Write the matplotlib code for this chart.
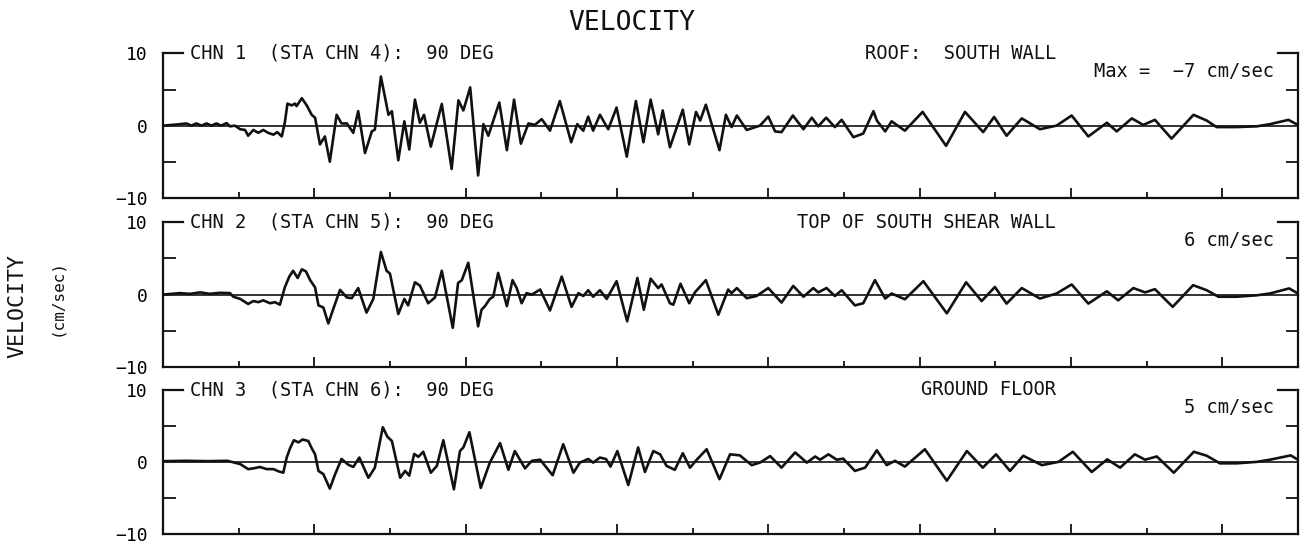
import matplotlib as mpl
import matplotlib.pyplot as plt

mpl.rcParams["font.family"] = ["DejaVu Sans Mono", "DejaVu Sans"]

# ----------------------------------------------
# Digitised velocity traces (time in s, velocity in cm/sec)
# ----------------------------------------------
t1 = [0.00, 0.36, 0.62, 0.75, 0.88, 1.02, 1.15, 1.28, 1.41, 1.54, 1.68, 1.77, 1.90,
      2.04, 2.17, 2.25, 2.39, 2.52, 2.65, 2.78, 2.92, 3.02, 3.14, 3.22, 3.29, 3.40,
      3.49, 3.53, 3.67, 3.80, 3.93, 4.02, 4.15, 4.28, 4.41, 4.59, 4.72, 4.86, 5.03,
      5.16, 5.34, 5.52, 5.60, 5.76, 5.96, 6.05, 6.22, 6.38, 6.51, 6.66, 6.79, 6.90,
      7.08, 7.37, 7.63, 7.81, 7.94, 8.12, 8.33, 8.47, 8.60, 8.89, 9.09, 9.28, 9.46,
      9.66, 9.83, 10.01, 10.23, 10.49, 10.79, 10.95, 11.11, 11.24, 11.37, 11.55,
      11.77, 11.99, 12.26, 12.50, 12.70, 12.89, 13.09, 13.21, 13.40, 13.74, 13.91,
      14.09, 14.20, 14.35, 14.71, 14.88, 15.03, 15.17, 15.43, 15.78, 16.00, 16.18,
      16.35, 16.65, 16.93, 17.15, 17.32, 17.53, 17.76, 17.94, 18.25, 18.51, 18.78,
      18.87, 19.09, 19.26, 19.61, 20.08, 20.70, 21.20, 21.68, 21.97, 22.30, 22.70,
      23.18, 23.62, 24.02, 24.46, 24.95, 25.21, 25.61, 25.91, 26.22, 26.66, 27.24,
      27.59, 27.85, 28.38, 28.91, 29.26, 29.75, 30.00]
v1 = [0.0, 0.15, 0.3, 0.0, 0.3, 0.0, 0.3, 0.0, 0.3, 0.0, 0.35, -0.1, 0.0,
      -0.5, -0.6, -1.4, -0.6, -1.0, -0.6, -1.0, -1.25, -0.9, -1.5, 0.4, 3.05, 2.8,
      3.05, 2.7, 3.8, 2.8, 1.5, 1.1, -2.6, -1.5, -5.0, 1.5, 0.3, 0.3, -1.0,
      2.0, -3.8, -0.8, -0.55, 6.8, 1.5, 2.0, -4.8, 0.6, -3.3, 3.6, 0.4, 1.5,
      -2.9, 3.0, -6.0, 3.5, 2.1, 5.3, -6.9, 0.2, -1.4, 3.2, -3.4, 3.6, -2.5,
      0.3, 0.1, 0.9, -0.7, 3.4, -2.3, 0.2, -0.7, 1.25, -0.7, 1.5,
      -0.5, 2.5, -4.3, 3.4, -2.3, 3.6, -1.2, 2.1, -3.0, 2.2, -2.6,
      1.9, 0.7, 2.9, -3.4, 1.5, -0.2, 1.4, -0.6, 0.0, 1.25, -0.8,
      -0.9, 1.4, -0.5, 1.1, -0.1, 1.1, -0.2, 0.8, -1.6, -1.1, 2.0,
      0.7, -0.8, 0.6, -0.7, 1.9, -2.8, 1.9, -0.9, 1.2, -1.4, 1.0,
      -0.5, 0.0, 1.4, -1.5, 0.4, -0.8, 1.0, 0.1, 0.8, -1.8, 1.5,
      0.7, -0.2, -0.2, -0.1, 0.2, 0.8, 0.1]

t2 = [0.00, 0.45, 0.71, 0.98, 1.24, 1.51, 1.77, 1.86, 2.04, 2.25, 2.39, 2.52, 2.65,
      2.83, 2.96, 3.09, 3.22, 3.34, 3.44, 3.56, 3.67, 3.78, 3.89, 4.02, 4.11, 4.24,
      4.37, 4.50, 4.68, 4.86, 4.99, 5.16, 5.38, 5.56, 5.76, 5.91, 6.00, 6.22, 6.38,
      6.48, 6.66, 6.79, 7.01, 7.19, 7.37, 7.66, 7.80, 7.90, 8.07, 8.33, 8.42, 8.51,
      8.64, 8.73, 8.86, 9.09, 9.24, 9.35, 9.48, 9.61, 9.75, 9.97, 10.23, 10.54,
      10.80, 10.98, 11.11, 11.24, 11.37, 11.55, 11.73, 11.99, 12.27, 12.54, 12.71,
      12.89, 13.09, 13.18, 13.40, 13.49, 13.68, 13.91, 14.06, 14.35, 14.68, 14.94,
      15.03, 15.17, 15.43, 15.69, 16.00, 16.35, 16.66, 16.93, 17.19, 17.32, 17.54,
      17.76, 17.94, 18.29, 18.51, 18.82, 19.09, 19.26, 19.61, 20.10, 20.72, 21.23,
      21.64, 21.99, 22.30, 22.70, 23.18, 23.62, 24.02, 24.46, 24.95, 25.25, 25.65,
      25.96, 26.22, 26.69, 27.23, 27.59, 27.90, 28.38, 28.91, 29.26, 29.77, 30.00]
v2 = [0.0, 0.2, 0.1, 0.3, 0.1, 0.25, 0.2, -0.3, -0.6, -1.3, -0.9, -1.05, -0.8,
      -1.2, -1.05, -1.4, 1.0, 2.5, 3.3, 2.3, 3.5, 3.2, 2.0, 1.0, -1.5, -1.8,
      -4.0, -2.0, 0.65, -0.4, -0.5, 0.9, -2.5, -0.6, 5.9, 3.3, 2.9, -2.7, -0.6,
      -1.5, 1.7, 1.25, -1.2, -0.4, 3.3, -4.6, 1.6, 2.0, 4.4, -4.4, -2.1, -1.6,
      -0.6, -0.3, 3.0, -1.6, 2.0, 0.9, -1.2, 0.2, 0.0, 0.7, -2.2, 2.5,
      -1.7, 0.2, -0.2, 0.6, -0.3, 0.6, -0.6, 1.85, -3.7, 2.3, -2.1,
      2.2, 0.9, 1.4, -1.2, -1.4, 1.5, -1.2, 0.3, 2.0, -2.8, 0.7,
      0.2, 0.9, -0.5, -0.2, 0.9, -1.1, 1.2, -0.3, 0.9, 0.3, 0.9,
      -0.2, 0.6, -1.5, -1.2, 2.0, -0.55, 0.15, -0.65, 1.85, -2.6, 1.7,
      -0.9, 1.05, -1.25, 0.9, -0.55, 0.15, 1.4, -1.25, 0.45, -0.8, 0.9,
      0.3, 0.75, -1.7, 1.3, 0.6, -0.3, -0.3, -0.1, 0.15, 0.85, 0.15]

t3 = [0.00, 0.60, 1.20, 1.70, 2.04, 2.25, 2.39, 2.56, 2.74, 2.92, 3.05, 3.18, 3.27,
      3.36, 3.46, 3.58, 3.69, 3.84, 3.93, 4.02, 4.11, 4.24, 4.41, 4.55, 4.72, 4.90,
      5.03, 5.19, 5.43, 5.60, 5.81, 5.93, 6.05, 6.27, 6.40, 6.51, 6.64, 6.75, 6.88,
      7.08, 7.24, 7.41, 7.69, 7.85, 7.94, 8.10, 8.40, 8.64, 8.91, 9.13, 9.30, 9.57,
      9.75, 9.97, 10.30, 10.58, 10.85, 11.02, 11.24, 11.37, 11.55, 11.71, 11.83,
      12.01, 12.30, 12.56, 12.74, 12.96, 13.14, 13.31, 13.53, 13.74, 13.93, 14.11,
      14.37, 14.71, 14.99, 15.25, 15.56, 15.78, 16.05, 16.35, 16.71, 17.02, 17.24,
      17.37, 17.59, 17.81, 17.98, 18.29, 18.56, 18.87, 19.13, 19.35, 19.61, 20.14,
      20.72, 21.25, 21.67, 22.02, 22.39, 22.74, 23.23, 23.67, 24.05, 24.55, 24.96,
      25.30, 25.69, 25.96, 26.27, 26.72, 27.25, 27.59, 27.94, 28.38, 28.91, 29.26,
      29.81, 30.00]
v3 = [0.1, 0.15, 0.1, 0.15, -0.3, -1.0, -0.9, -0.7, -1.0, -1.0, -1.3, -1.5, 0.6,
      1.9, 3.0, 2.7, 3.1, 2.9, 1.9, 1.05, -1.25, -1.7, -3.7, -1.7, 0.4, -0.4,
      -0.7, 0.6, -2.2, -0.8, 4.8, 3.5, 2.9, -2.2, -1.25, -1.9, 1.1, 0.7, 1.4,
      -1.5, -0.55, 3.0, -3.8, 1.5, 2.0, 4.1, -3.6, -0.1, 2.6, -1.1, 1.5, -0.9,
      0.15, 0.3, -1.85, 2.45, -1.5, -0.1, 0.4, -0.1, 0.6, 0.4, -0.65,
      1.5, -3.2, 2.0, -1.4, 1.5, 1.05, -0.55, -1.1, 1.2, -0.8, 0.3,
      1.75, -2.4, 1.05, 0.9, -0.45, -0.1, 0.8, -0.8, 1.3, -0.1, 0.75,
      0.3, 1.05, 0.3, 0.45, -1.25, -0.8, 1.6, -0.45, 0.15, -0.65, 1.75,
      -2.6, 1.5, -0.8, 1.05, -1.25, 0.85, -0.45, 0.0, 1.4, -1.4, 0.35,
      -0.8, 1.05, 0.3, 0.75, -1.5, 1.4, 0.85, -0.2, -0.2, 0.0, 0.3,
      0.9, 0.3]

times = [t1, t2, t3]
velocities = [v1, v2, v3]

chan_labels = ["CHN 1  (STA CHN 4):  90 DEG",
               "CHN 2  (STA CHN 5):  90 DEG",
               "CHN 3  (STA CHN 6):  90 DEG"]
loc_labels = ["ROOF:  SOUTH WALL", "TOP OF SOUTH SHEAR WALL", "GROUND FLOOR"]
max_labels = ["Max =  \u22127 cm/sec", "6 cm/sec", "5 cm/sec"]

ytick_vals = [-10, 0, 10]
ytick_text = ["\u221210", "0", "10"]

INK = "#111111"

fig = plt.figure(figsize=(13.06, 5.45), dpi=100)
bottoms = [0.637, 0.327, 0.020]

for i in range(3):
    ax = fig.add_axes([0.1248, bottoms[i], 0.869, 0.265])
    ax.plot(times[i], velocities[i], color=INK, lw=1.9, solid_joinstyle="round")
    ax.axhline(0, color=INK, lw=1.2)
    ax.set_xlim(0, 30)
    ax.set_ylim(-10, 10)

    # frame: no top spine, only short corner stubs
    ax.spines["top"].set_visible(False)
    for s in ["left", "right", "bottom"]:
        ax.spines[s].set_linewidth(1.6)
        ax.spines[s].set_color(INK)
    ax.plot([0, 0.0176], [1, 1], transform=ax.transAxes, color=INK, lw=1.6,
            clip_on=False)
    ax.plot([0.9824, 1], [1, 1], transform=ax.transAxes, color=INK, lw=1.6,
            clip_on=False)

    ax.set_yticks(ytick_vals)
    ax.set_yticklabels(ytick_text, fontsize=13)
    ax.set_yticks([-5, 5], minor=True)
    ax.tick_params(axis="y", which="major", length=0, pad=11)
    ax.tick_params(axis="y", which="minor", direction="in", length=9,
                   width=1.3, left=True, right=True, color=INK)

    ax.set_xticks(range(4, 30, 4))
    ax.set_xticklabels([])
    ax.set_xticks(range(2, 30, 4), minor=True)
    ax.tick_params(axis="x", which="major", direction="in", length=7.5,
                   width=1.3, color=INK)
    ax.tick_params(axis="x", which="minor", direction="in", length=4,
                   width=1.3, color=INK)

    ax.text(0.0238, 1.0, chan_labels[i], transform=ax.transAxes, ha="left",
            va="center", fontsize=13.5, color=INK)
    ax.text(0.787, 1.0, loc_labels[i], transform=ax.transAxes, ha="right",
            va="center", fontsize=13.5, color=INK)
    ax.text(0.979, 0.875, max_labels[i], transform=ax.transAxes, ha="right",
            va="center", fontsize=13.5, color=INK)

fig.text(0.484, 0.958, "VELOCITY", ha="center", va="center", fontsize=19,
         color=INK)
fig.text(0.013, 0.439, "VELOCITY", rotation=90, ha="center", va="center",
         fontsize=15.5, color=INK)
fig.text(0.0436, 0.455, "(cm/sec)", rotation=90, ha="center", va="center",
         fontsize=11.5, color=INK)

plt.savefig("out.png", dpi=100)
